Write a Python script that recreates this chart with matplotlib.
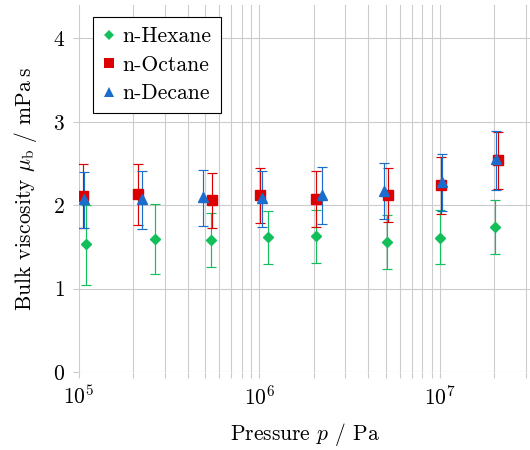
import matplotlib
matplotlib.use("Agg")
import matplotlib.pyplot as plt
from matplotlib.lines import Line2D
from matplotlib.ticker import LogLocator, NullFormatter
import numpy as np

plt.rcParams['font.family'] = 'serif'
plt.rcParams['font.serif'] = ['cmr10']
plt.rcParams['mathtext.fontset'] = 'cm'
plt.rcParams['axes.formatter.use_mathtext'] = True
plt.rcParams['axes.unicode_minus'] = False

series_names = ["n-Hexane", "n-Octane", "n-Decane"]

hexane_p = [1.09e5, 2.64e5, 5.41e5, 1.11e6, 2.07e6, 5.11e6, 1.00e7, 2.03e7]
hexane_mu = [1.53, 1.60, 1.58, 1.62, 1.625, 1.56, 1.61, 1.74]
hexane_lo = [1.04, 1.17, 1.26, 1.30, 1.31, 1.23, 1.29, 1.41]
hexane_hi = [2.00, 2.02, 1.91, 1.93, 1.94, 1.88, 1.94, 2.06]

octane_p = [1.056e5, 2.13e5, 5.46e5, 1.01e6, 2.07e6, 5.15e6, 1.01e7, 2.09e7]
octane_mu = [2.11, 2.13, 2.06, 2.12, 2.07, 2.12, 2.24, 2.54]
octane_lo = [1.73, 1.76, 1.73, 1.79, 1.74, 1.80, 1.90, 2.19]
octane_hi = [2.49, 2.49, 2.39, 2.45, 2.41, 2.44, 2.58, 2.88]

decane_p = [1.066e5, 2.24e5, 4.88e5, 1.04e6, 2.22e6, 4.88e6, 1.03e7, 2.05e7]
decane_mu = [2.08, 2.08, 2.10, 2.09, 2.12, 2.17, 2.28, 2.55]
decane_lo = [1.73, 1.72, 1.75, 1.74, 1.77, 1.83, 1.93, 2.18]
decane_hi = [2.40, 2.41, 2.42, 2.41, 2.46, 2.51, 2.61, 2.89]

colors = ["#12bf5a", "#dd0000", "#1a6dcc"]
markers = ["D", "s", "^"]
msizes = [5.2, 6.5, 7.2]

fs = 15.5

fig = plt.figure(figsize=(5.3, 4.5), dpi=100)
ax = fig.add_axes([0.149, 0.1733, 0.851, 0.8156])

data = [(hexane_p, hexane_mu, hexane_lo, hexane_hi),
        (octane_p, octane_mu, octane_lo, octane_hi),
        (decane_p, decane_mu, decane_lo, decane_hi)]

handles = []
for (p, mu, lo, hi), c, m, ms, name in zip(data, colors, markers, msizes, series_names):
    p = np.array(p); mu = np.array(mu); lo = np.array(lo); hi = np.array(hi)
    yerr = np.vstack([mu - lo, hi - mu])
    ax.errorbar(p, mu, yerr=yerr, fmt=m, color=c, ecolor=c, elinewidth=0.85,
                capsize=3.4, capthick=0.85, markersize=ms, mec=c, mfc=c,
                zorder=3)
    handles.append(Line2D([], [], linestyle='none', marker=m, color=c,
                          markersize=ms, markeredgewidth=0, label=name))

ax.set_xscale('log')
ax.set_xlim(1e5, 3.16e7)
ax.set_ylim(0, 4.4)
ax.set_yticks([0, 1, 2, 3, 4])
ax.xaxis.set_major_locator(LogLocator(base=10, numticks=10))
ax.xaxis.set_minor_locator(LogLocator(base=10, subs=np.arange(2, 10), numticks=20))
ax.xaxis.set_minor_formatter(NullFormatter())

gridc = "#cccccc"
ax.grid(True, which='both', axis='x', color=gridc, linewidth=0.8, zorder=0)
ax.grid(True, which='major', axis='y', color=gridc, linewidth=0.8, zorder=0)
ax.set_axisbelow(True)
for s in ax.spines.values():
    s.set_visible(False)
ax.tick_params(axis='both', which='both', direction='out', color=gridc,
               width=0.8, labelsize=fs, length=4)
ax.tick_params(axis='x', which='minor', length=4)
ax.tick_params(axis='x', pad=5)
ax.tick_params(axis='y', pad=6)

ax.set_xlabel(r"Pressure $p$ / Pa", fontsize=fs, labelpad=9)
ax.set_ylabel(r"Bulk viscosity $\mu_{\mathrm{b}}$ / mPa$\:$s", fontsize=fs, labelpad=10)

leg = ax.legend(handles=handles, loc='upper left', bbox_to_anchor=(0.031, 0.967),
                borderaxespad=0, fontsize=fs, frameon=True, fancybox=False,
                handlelength=0.6, handletextpad=0.3, labelspacing=0.42,
                borderpad=0.45)
leg.get_frame().set_edgecolor('black')
leg.get_frame().set_linewidth(0.8)
leg.get_frame().set_alpha(1)

fig.savefig("out.png", dpi=100)
